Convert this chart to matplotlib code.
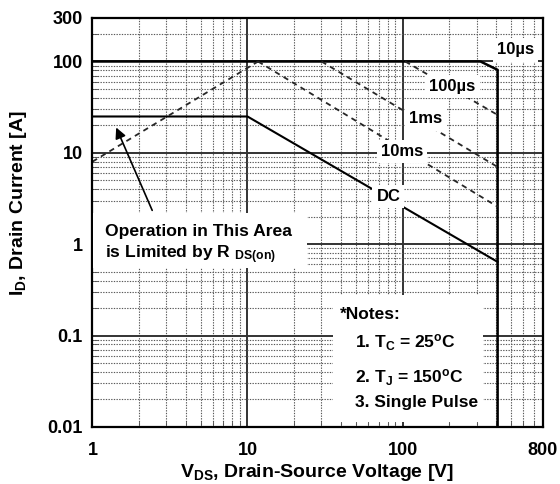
import matplotlib.pyplot as plt
from matplotlib.patches import Rectangle
from matplotlib.ticker import FixedLocator, NullFormatter

plt.rcParams['font.family'] = ['Liberation Sans', 'DejaVu Sans']
plt.rcParams['font.weight'] = 'bold'
plt.rcParams['mathtext.fontset'] = 'custom'
plt.rcParams['mathtext.rm'] = 'Liberation Sans:bold'
plt.rcParams['mathtext.it'] = 'Liberation Sans:bold'
plt.rcParams['mathtext.bf'] = 'Liberation Sans:bold'
plt.rcParams['mathtext.default'] = 'rm'

# Limites de operacion segura (V, A)
v_10us = [1, 318, 410, 410]
i_10us = [100, 100, 81, 0.01]
v_100us = [104, 410]
i_100us = [100, 26]
v_1ms = [30, 410]
i_1ms = [100, 7.0]
v_10ms = [11.7, 410]
i_10ms = [100, 2.57]
v_dc = [1, 10, 410]
i_dc = [25, 25, 0.64]
v_rds = [1, 11.7]
i_rds = [8.0, 100]

x_ticks = [1, 10, 100, 800]
y_ticks = [0.01, 0.1, 1, 10, 100, 300]
y_ticklabels = ['0.01', '0.1', '1', '10', '100', '300']

fig = plt.figure(figsize=(5.6, 4.84), dpi=100)
ax = fig.add_axes([0.165, 0.118, 0.804, 0.845])
ax.set_xscale('log')
ax.set_yscale('log')
ax.set_xlim(1, 800)
ax.set_ylim(0.01, 300)

ax.set_axisbelow(True)
ax.grid(which='major', color='0.2', lw=1.4, ls='-')
ax.grid(which='minor', color='0.35', lw=0.8, ls=(0, (1.2, 1.2)))

ax.plot(v_10us, i_10us, color='black', lw=1.8)
ax.plot(v_dc, i_dc, color='black', lw=1.5)
ax.plot(v_100us, i_100us, color='0.15', lw=1.3, ls=(0, (3, 2.5)))
ax.plot(v_1ms, i_1ms, color='0.15', lw=1.3, ls=(0, (3, 2.5)))
ax.plot(v_10ms, i_10ms, color='0.15', lw=1.3, ls=(0, (3, 2.5)))
ax.plot(v_rds, i_rds, color='0.15', lw=1.3, ls=(0, (3, 2.5)))

ax.xaxis.set_major_locator(FixedLocator(x_ticks))
ax.set_xticklabels([str(t) for t in x_ticks])
ax.xaxis.set_minor_formatter(NullFormatter())
ax.yaxis.set_major_locator(FixedLocator(y_ticks))
ax.set_yticklabels(y_ticklabels)
ax.yaxis.set_minor_formatter(NullFormatter())
ax.tick_params(which='both', direction='in', labelsize=13)
ax.tick_params(axis='x', which='major', pad=11)
ax.tick_params(axis='y', which='major', pad=7)
ax.tick_params(which='major', length=0)
ax.tick_params(which='minor', length=4, color='0.3')
for s in ax.spines.values():
    s.set_linewidth(1.6)

ax.set_xlabel('V$_{DS}$, Drain-Source Voltage [V]', fontsize=14, fontweight='bold', labelpad=2)
ax.set_ylabel('I$_D$, Drain Current [A]', fontsize=14, fontweight='bold')
ax.yaxis.set_label_coords(-0.14, 0.548)

box = dict(facecolor='white', edgecolor='none', pad=3)
ax.text(536, 134, '10µs', ha='center', va='center', fontsize=12, bbox=box, zorder=4)
ax.text(209, 53, '100µs', ha='center', va='center', fontsize=12, bbox=box, zorder=4)
ax.text(140, 23.5, '1ms', ha='center', va='center', fontsize=12, bbox=box, zorder=4)
ax.text(99, 10.3, '10ms', ha='center', va='center', fontsize=12, bbox=box, zorder=4)
ax.text(81, 3.34, 'DC', ha='center', va='center', fontsize=12, bbox=box, zorder=4)

# flecha y texto de R_DS(on)
ax.annotate('', xy=(1.4, 20.2), xytext=(2.47, 2.2),
            arrowprops=dict(arrowstyle='-|>', color='black', lw=1.2, mutation_scale=16))
ax.add_patch(Rectangle((0.002, 0.389), 0.475, 0.134, transform=ax.transAxes,
                       facecolor='white', edgecolor='none', zorder=3))
ax.text(0.028, 0.477, 'Operation in This Area', transform=ax.transAxes,
        ha='left', va='center', fontsize=12.6, zorder=4)
ax.text(0.028, 0.42, 'is Limited by R $_{DS(on)}$', transform=ax.transAxes,
        ha='left', va='center', fontsize=12.6, zorder=4)

# notas
ax.add_patch(Rectangle((0.534, 0.012), 0.334, 0.31, transform=ax.transAxes,
                       facecolor='white', edgecolor='none', zorder=3))
ax.text(0.55, 0.274, '*Notes:', transform=ax.transAxes, ha='left', va='center', fontsize=12.5, zorder=4)
ax.text(0.583, 0.205, '1. T$_C$ = 25$^o$C', transform=ax.transAxes, ha='left', va='center', fontsize=12.5, zorder=4)
ax.text(0.583, 0.12, '2. T$_J$ = 150$^o$C', transform=ax.transAxes, ha='left', va='center', fontsize=12.5, zorder=4)
ax.text(0.583, 0.059, '3. Single Pulse', transform=ax.transAxes, ha='left', va='center', fontsize=12.5, zorder=4)

fig.savefig('out.png', dpi=100)
